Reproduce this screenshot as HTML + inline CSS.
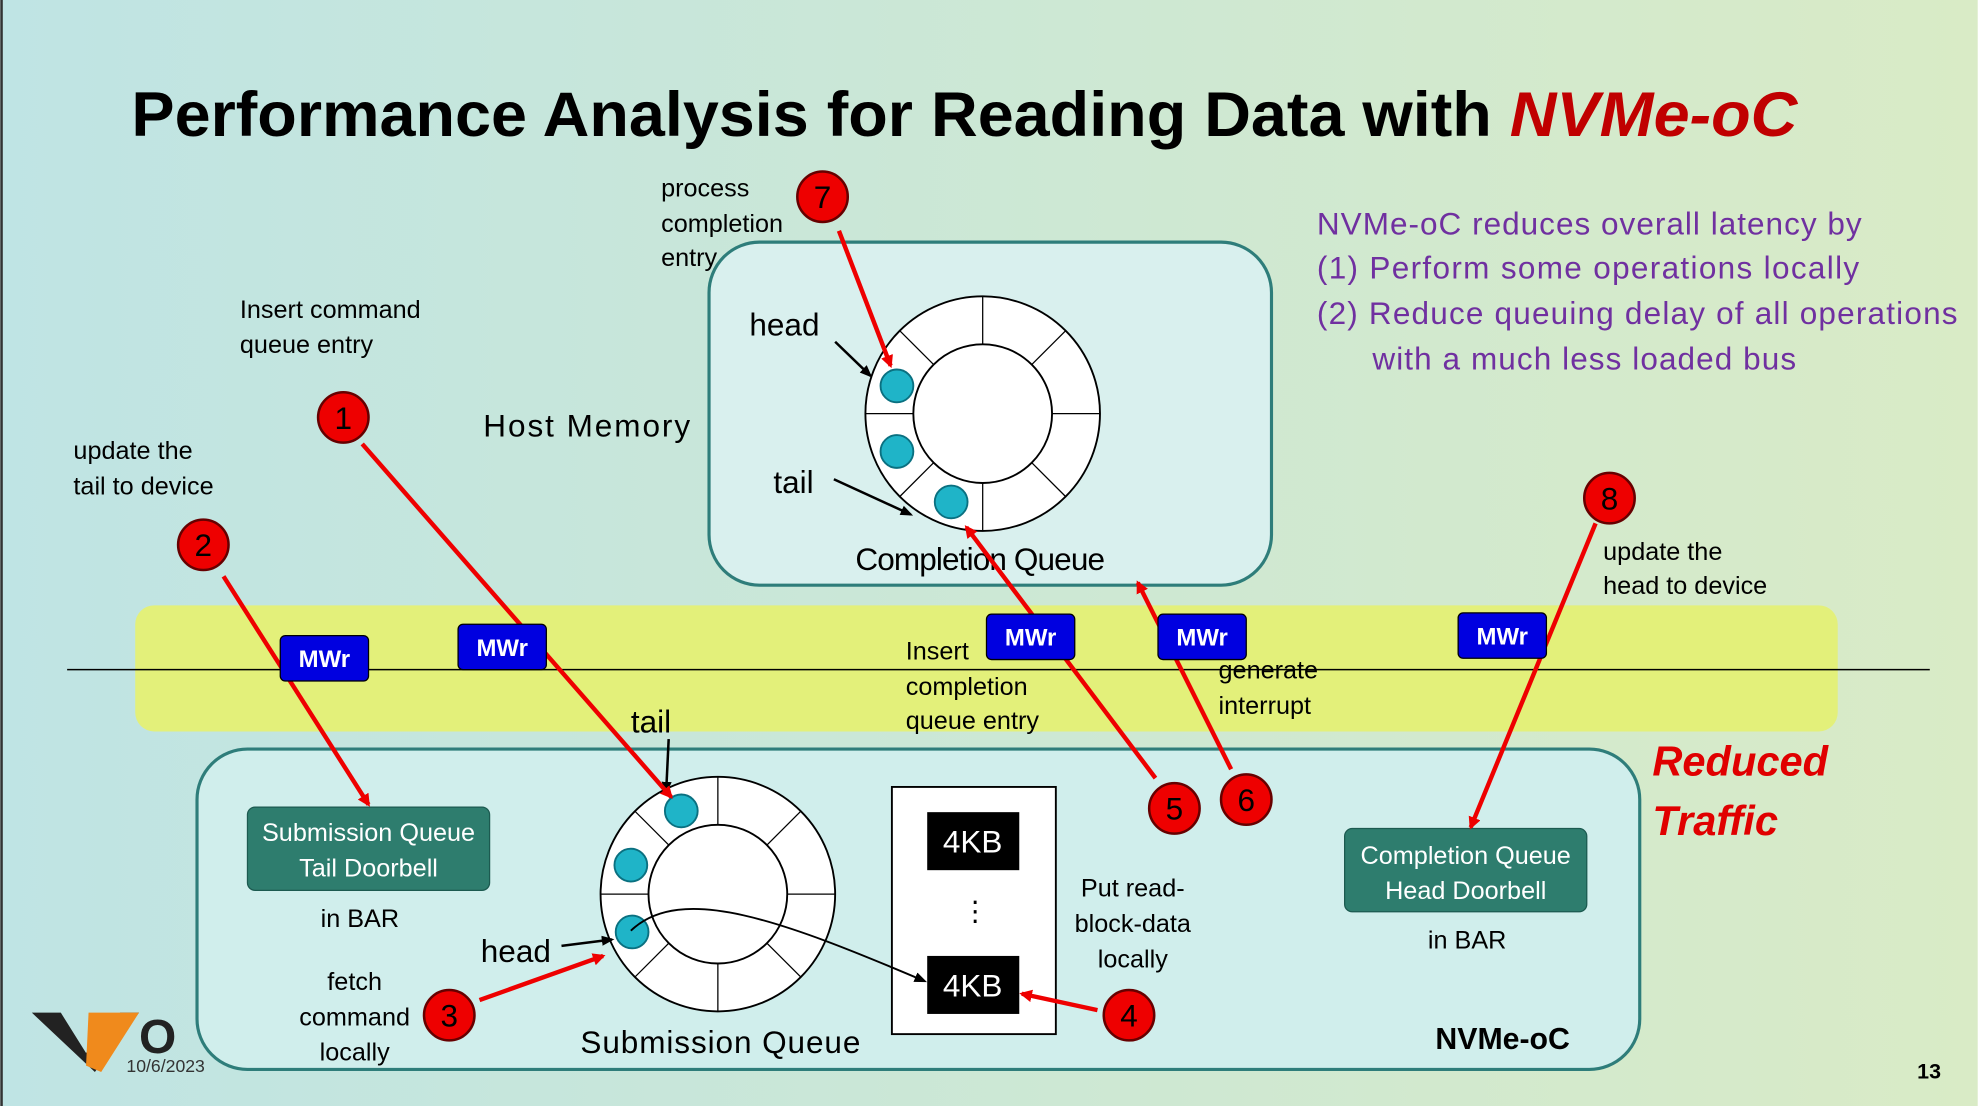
<!DOCTYPE html>
<html><head><meta charset="utf-8"><style>
html,body{margin:0;padding:0;width:1978px;height:1106px;overflow:hidden}
svg{display:block}
text{font-family:"Liberation Sans","DejaVu Sans",sans-serif}
</style></head><body>
<svg width="1978" height="1106" viewBox="0 0 1568 877" xmlns="http://www.w3.org/2000/svg">
<defs>
<linearGradient id="bg" x1="0" y1="0" x2="1" y2="0">
<stop offset="0" stop-color="#bfe4e4"/><stop offset="1" stop-color="#d9ebc6"/></linearGradient>
<marker id="ar" markerWidth="10" markerHeight="10" refX="8" refY="5" orient="auto" markerUnits="userSpaceOnUse"><path d="M0,0 L10,5 L0,10 z" fill="#ee0000"/></marker>
<marker id="ab" markerWidth="10" markerHeight="10" refX="8" refY="5" orient="auto" markerUnits="userSpaceOnUse"><path d="M0,1 L10,5 L0,9 z" fill="#000"/></marker>
</defs>
<rect width="1568" height="877" fill="url(#bg)"/>
<line x1="1" y1="0" x2="1" y2="877" stroke="#333" stroke-width="2"/>
<text x="104" y="108" font-size="50" font-weight="bold" fill="#000" textLength="1321" lengthAdjust="spacingAndGlyphs">Performance Analysis for Reading Data with <tspan fill="#c00000" font-style="italic">NVMe-oC</tspan></text>
<g font-size="25" fill="#7030a0">
<text x="1044" y="186" textLength="432">NVMe-oC reduces overall latency by</text>
<text x="1044" y="221" textLength="430">(1)  Perform some operations locally</text>
<text x="1044" y="257" textLength="508">(2)  Reduce queuing delay of all operations</text>
<text x="1088" y="293" textLength="336">with a much less loaded bus</text>
</g>
<rect x="562" y="192" width="446" height="272" rx="40" fill="#d9f0ee" stroke="#2e7d7a" stroke-width="2.5"/>
<rect x="107" y="480" width="1350" height="100" rx="15" fill="#e3f07a"/>
<line x1="53" y1="531" x2="1530" y2="531" stroke="#000" stroke-width="1.2"/>
<rect x="156" y="594" width="1144" height="254" rx="40" fill="#d0eeec" stroke="#2e7d7a" stroke-width="2.5"/>
<g stroke="#000" stroke-width="1.5" fill="#fff">
<circle cx="779" cy="328" r="93"/><circle cx="779" cy="328" r="55"/>
<g stroke-width="1"><line x1="779" y1="235" x2="779" y2="273"/><line x1="779" y1="383" x2="779" y2="421"/><line x1="686" y1="328" x2="724" y2="328"/><line x1="834" y1="328" x2="872" y2="328"/><line x1="713" y1="262" x2="740" y2="289"/><line x1="818" y1="367" x2="845" y2="394"/><line x1="845" y1="262" x2="818" y2="289"/><line x1="740" y1="367" x2="713" y2="394"/></g>
<circle cx="569" cy="709" r="93"/><circle cx="569" cy="709" r="55"/>
<g stroke-width="1"><line x1="569" y1="616" x2="569" y2="654"/><line x1="569" y1="764" x2="569" y2="802"/><line x1="476" y1="709" x2="514" y2="709"/><line x1="624" y1="709" x2="662" y2="709"/><line x1="503" y1="643" x2="530" y2="670"/><line x1="608" y1="748" x2="635" y2="775"/><line x1="635" y1="643" x2="608" y2="670"/><line x1="530" y1="748" x2="503" y2="775"/></g>
</g>
<g fill="#1fb4c8" stroke="#0a7080" stroke-width="1.5">
<circle cx="711" cy="306" r="13"/><circle cx="711" cy="358" r="13"/><circle cx="754" cy="398" r="13"/>
<circle cx="540" cy="643" r="13"/><circle cx="500" cy="686" r="13"/><circle cx="501" cy="739" r="13"/>
</g>
<g stroke="#000" stroke-width="2" marker-end="url(#ab)">
<line x1="662" y1="271" x2="690" y2="298"/><line x1="661" y1="380" x2="722" y2="408"/>
<line x1="530" y1="586" x2="528" y2="628"/><line x1="445" y1="750" x2="485" y2="745"/>
</g>
<g font-size="25" fill="#000">
<text x="594" y="266">head</text><text x="613" y="391">tail</text>
<text x="678" y="452" textLength="198">Completion Queue</text><text x="383" y="346" textLength="164">Host Memory</text>
<text x="500" y="581">tail</text><text x="381" y="763">head</text><text x="460" y="835" textLength="222">Submission Queue</text>
</g>
<rect x="707" y="624" width="130" height="196" fill="#fff" stroke="#000" stroke-width="1.5"/>
<rect x="735" y="644" width="73" height="46" fill="#000"/><rect x="735" y="758" width="73" height="46" fill="#000"/>
<text x="771" y="676" font-size="25" fill="#fff" text-anchor="middle">4KB</text>
<text x="771" y="790" font-size="25" fill="#fff" text-anchor="middle">4KB</text>
<text x="773" y="730" font-size="22" text-anchor="middle">⋮</text>
<path d="M500,738 C540,700 620,730 733,778" fill="none" stroke="#000" stroke-width="1.5" marker-end="url(#ab)"/>
<rect x="196" y="640" width="192" height="66" rx="6" fill="#2e7d6e" stroke="#1c5a50"/>
<text x="292" y="667" font-size="20" fill="#fff" text-anchor="middle">Submission Queue</text>
<text x="292" y="695" font-size="20" fill="#fff" text-anchor="middle">Tail Doorbell</text>
<rect x="1066" y="657" width="192" height="66" rx="6" fill="#2e7d6e" stroke="#1c5a50"/>
<text x="1162" y="685" font-size="20" fill="#fff" text-anchor="middle">Completion Queue</text>
<text x="1162" y="713" font-size="20" fill="#fff" text-anchor="middle">Head Doorbell</text>
<g font-size="20" fill="#000">
<text x="254" y="735">in BAR</text><text x="1132" y="752">in BAR</text>
<text x="190" y="252">Insert command</text><text x="190" y="280">queue entry</text>
<text x="58" y="364">update the</text><text x="58" y="392">tail to device</text>
<text x="524" y="156">process</text><text x="524" y="184">completion</text><text x="524" y="211">entry</text>
<text x="718" y="523">Insert</text><text x="718" y="551">completion</text><text x="718" y="578">queue entry</text>
<text x="966" y="538">generate</text><text x="966" y="566">interrupt</text>
<text x="1271" y="444">update the</text><text x="1271" y="471">head to device</text>
<text x="281" y="785" text-anchor="middle">fetch</text><text x="281" y="813" text-anchor="middle">command</text><text x="281" y="841" text-anchor="middle">locally</text>
<text x="898" y="711" text-anchor="middle">Put read-</text><text x="898" y="739" text-anchor="middle">block-data</text><text x="898" y="767" text-anchor="middle">locally</text>
</g>
<text x="1138" y="832" font-size="24" font-weight="bold">NVMe-oC</text>
<text x="1310" y="615" font-size="33" font-weight="bold" font-style="italic" fill="#e00000">Reduced</text>
<text x="1310" y="662" font-size="33" font-weight="bold" font-style="italic" fill="#e00000">Traffic</text>
<g stroke="#ee0000" stroke-width="3.5" marker-end="url(#ar)">
<line x1="665" y1="183" x2="706" y2="290"/>
<line x1="287" y1="352" x2="532" y2="632"/>
<line x1="177" y1="457" x2="292" y2="638"/>
<line x1="380" y1="793" x2="478" y2="758"/>
<line x1="870" y1="801" x2="810" y2="788"/>
<line x1="916" y1="617" x2="766" y2="418"/>
<line x1="976" y1="610" x2="902" y2="462"/>
<line x1="1265" y1="415" x2="1166" y2="656"/>
</g>
<g font-size="19" font-weight="bold" fill="#fff" text-anchor="middle">
<rect x="222" y="504" width="70" height="36" rx="4" fill="#0000e0" stroke="#000"/><text x="257" y="529">MWr</text>
<rect x="363" y="495" width="70" height="36" rx="4" fill="#0000e0" stroke="#000"/><text x="398" y="520">MWr</text>
<rect x="782" y="487" width="70" height="36" rx="4" fill="#0000e0" stroke="#000"/><text x="817" y="512">MWr</text>
<rect x="918" y="487" width="70" height="36" rx="4" fill="#0000e0" stroke="#000"/><text x="953" y="512">MWr</text>
<rect x="1156" y="486" width="70" height="36" rx="4" fill="#0000e0" stroke="#000"/><text x="1191" y="511">MWr</text>
</g>
<g fill="#ee0000" stroke="#600" stroke-width="2">
<circle cx="272" cy="331" r="20"/><circle cx="161" cy="432" r="20"/><circle cx="356" cy="805" r="20"/><circle cx="895" cy="805" r="20"/>
<circle cx="931" cy="641" r="20"/><circle cx="988" cy="634" r="20"/><circle cx="652" cy="156" r="20"/><circle cx="1276" cy="395" r="20"/>
</g>
<g font-size="25" fill="#000" text-anchor="middle">
<text x="272" y="340">1</text><text x="161" y="441">2</text><text x="356" y="814">3</text><text x="895" y="814">4</text>
<text x="931" y="650">5</text><text x="988" y="643">6</text><text x="652" y="165">7</text><text x="1276" y="404">8</text>
</g>
<path d="M25,803 L48,803 L68,835 L95,803 L110,803 L75,850 Z" fill="#222"/>
<path d="M70,803 L110,803 L80,850 L68,845 Z" fill="#f08a1c"/>
<text x="110" y="835" font-size="38" font-weight="bold" fill="#222">O</text>
<text x="100" y="850" font-size="14" fill="#333">10/6/2023</text>
<text x="1520" y="855" font-size="17" font-weight="bold" fill="#000">13</text>
</svg>
</body></html>
